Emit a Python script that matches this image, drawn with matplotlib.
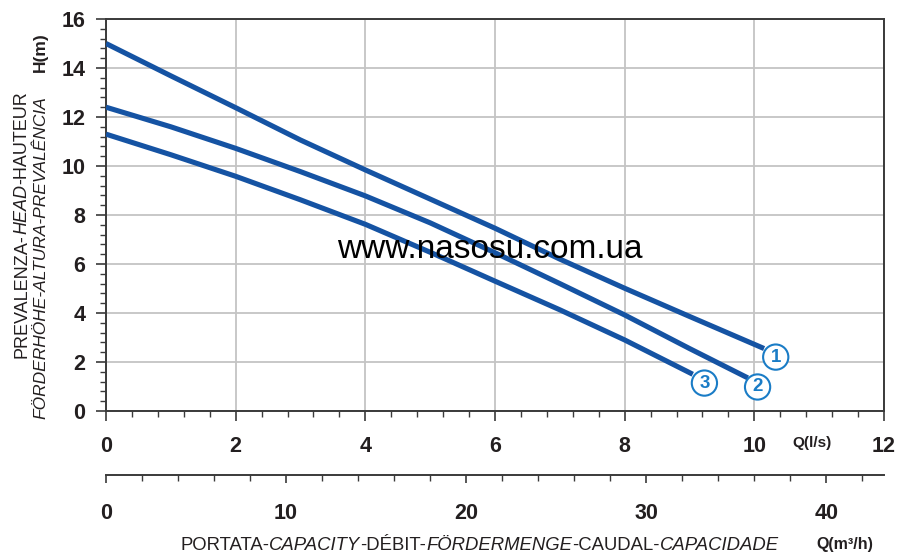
import matplotlib
matplotlib.use("Agg")
import matplotlib.pyplot as plt
from matplotlib.ticker import MultipleLocator

# pump curves, Q in l/s, H in m
q1 = [0, 1, 2, 3, 4, 5, 6, 7, 8, 9, 10.15]
h1 = [15.0, 13.68, 12.38, 11.06, 9.84, 8.65, 7.46, 6.2, 5.01, 3.86, 2.55]
q2 = [0, 1, 2, 3, 4, 5, 6, 7, 8, 9, 9.9]
h2 = [12.4, 11.6, 10.72, 9.77, 8.78, 7.68, 6.46, 5.2, 3.92, 2.55, 1.35]
q3 = [0, 1, 2, 3, 4, 5, 6, 7, 8, 9.05]
h3 = [11.3, 10.46, 9.58, 8.62, 7.62, 6.48, 5.3, 4.13, 2.9, 1.5]
curveLabels = ["1", "2", "3"]
labelPos = [(10.33, 2.2), (10.05, 0.98), (9.23, 1.14)]

xTicks = [0, 2, 4, 6, 8, 10, 12]
yTicks = [0, 2, 4, 6, 8, 10, 12, 14, 16]
m3hTicks = [0, 10, 20, 30, 40]

plt.rcParams["font.family"] = ["Liberation Sans", "DejaVu Sans"]

lineColor = "#1553a3"
ringColor = "#1a7cc6"
gridColor = "#c4c4c4"
spineColor = "#3a3a3a"
textColor = "#231f20"

fig = plt.figure(figsize=(8.98, 5.54), dpi=100)
ax = fig.add_axes([106/898, 1-411/554, (884-106)/898, 392/554])

for q, h in [(q1, h1), (q2, h2), (q3, h3)]:
    ax.plot(q, h, color=lineColor, lw=3.7, solid_capstyle="butt", solid_joinstyle="round", zorder=3)

for label, (x, y) in zip(curveLabels, labelPos):
    ax.text(x, y, label, ha="center", va="center", fontsize=13.5, fontweight="bold",
            color=ringColor, zorder=5,
            bbox=dict(boxstyle="circle,pad=0.22", fc="white", ec=ringColor, lw=1.5))

ax.set_xlim(0, 12)
ax.set_ylim(0, 16)
ax.set_xticks(xTicks)
ax.set_yticks(yTicks)
ax.xaxis.set_minor_locator(MultipleLocator(0.4))
ax.yaxis.set_minor_locator(MultipleLocator(0.4))
ax.grid(True, which="major", color=gridColor, lw=1.3, zorder=0)
ax.set_axisbelow(True)
for s in ax.spines.values():
    s.set_color(spineColor)
    s.set_linewidth(1.4)
ax.tick_params(which="major", length=7, width=1.2, color=spineColor, labelsize=15.5,
               labelcolor=textColor)
ax.tick_params(which="minor", length=4, width=1.0, color=spineColor)
ax.tick_params(axis="x", which="major", pad=11)
ax.tick_params(axis="y", which="major", pad=8)
for lab in ax.get_xticklabels() + ax.get_yticklabels():
    lab.set_fontweight("bold")

ax.text(812/898, 1-443/554, "Q(l/s)", transform=fig.transFigure, ha="center", va="center",
        fontsize=11, fontweight="bold", color=textColor)

# second Q axis in m3/h
ax2 = fig.add_axes([106/898, 1-475/554, (884-106)/898, 0.0001])
ax2.set_xlim(0, 12*3.6)
ax2.set_ylim(0, 1)
for k in ["top", "left", "right"]:
    ax2.spines[k].set_visible(False)
ax2.spines["bottom"].set_color(spineColor)
ax2.spines["bottom"].set_linewidth(1.4)
ax2.set_yticks([])
ax2.set_xticks(m3hTicks)
ax2.xaxis.set_minor_locator(MultipleLocator(2))
ax2.tick_params(which="major", length=6, width=1.2, color=spineColor, labelsize=15.5,
                labelcolor=textColor, pad=14)
ax2.tick_params(which="minor", length=4, width=1.0, color=spineColor)
for lab in ax2.get_xticklabels():
    lab.set_fontweight("bold")
ax2.patch.set_visible(False)

fig.text(845/898, 1-544/554, "Q(m³/h)", ha="center", va="center",
         fontsize=11.5, fontweight="bold", color=textColor)

# multi-style labels drawn piece by piece
renderer = fig.canvas.get_renderer()


def DrawPieces(x, y, pieces, rotation=0, fontsize=12):
    # x, y in pixels; pieces = [(text, style)]
    for text, style in pieces:
        t = fig.text(x/898, 1-y/554, text, fontsize=fontsize, style=style, color=textColor,
                     ha="left", va="baseline", rotation=rotation, rotation_mode="anchor")
        ext = t.get_window_extent(renderer)
        if rotation == 0:
            x += ext.width
        else:
            y -= ext.height


bottomPieces = [("PORTATA-", "normal"), ("CAPACITY", "italic"), ("-DÉBIT-", "normal"),
                ("FÖRDERMENGE", "italic"), ("-CAUDAL-", "normal"), ("CAPACIDADE", "italic")]
DrawPieces(180, 550, bottomPieces, fontsize=13.3)

leftPieces1 = [("PREVALENZA-", "normal"), ("HEAD", "italic"), ("-HAUTEUR", "normal")]
DrawPieces(26, 358, leftPieces1, rotation=90, fontsize=13)
leftPieces2 = [("FÖRDERHÖHE-ALTURA-PREVALÊNCIA", "italic")]
DrawPieces(45, 419, leftPieces2, rotation=90, fontsize=12.5)
fig.text(45/898, 1-72/554, "H(m)", rotation=90, fontsize=12.5, fontweight="bold",
         color=textColor, ha="left", va="baseline", rotation_mode="anchor")

fig.text(490/898, 1-250/554, "www.nasosu.com.ua", ha="center", va="center",
         fontsize=24, color="black", zorder=10)

fig.savefig("out.png", dpi=100)
